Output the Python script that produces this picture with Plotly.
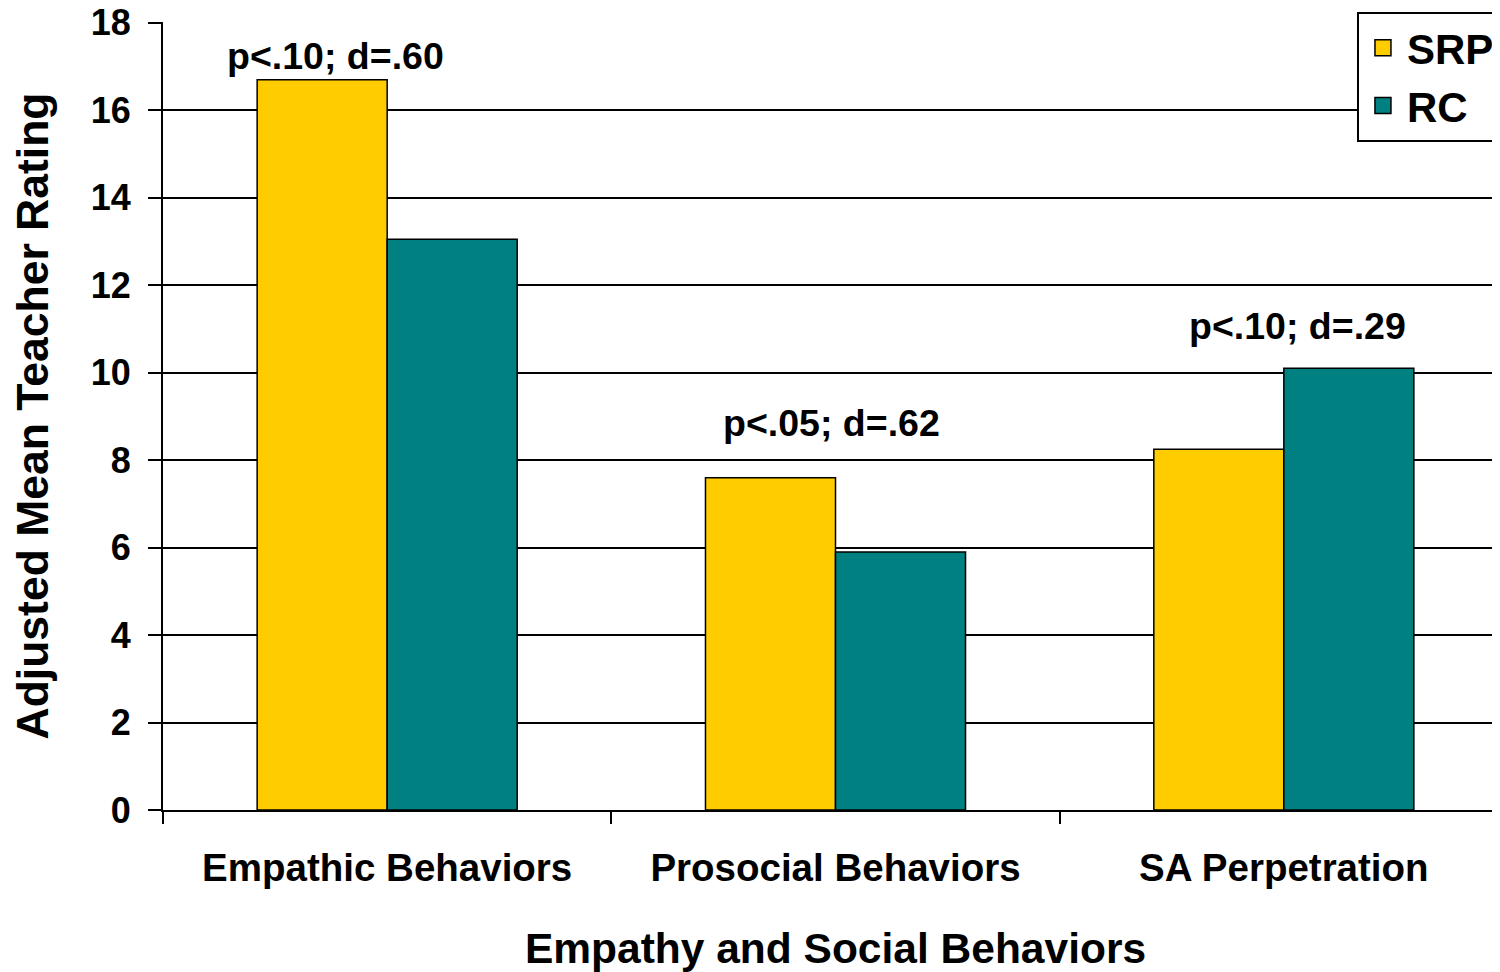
import plotly.graph_objects as go

categories = ["Empathic Behaviors", "Prosocial Behaviors", "SA Perpetration"]
srp_values = [16.7, 7.6, 8.25]
rc_values = [13.05, 5.9, 10.1]
annot_texts = ["p<.10; d=.60", "p<.05; d=.62", "p<.10; d=.29"]
annot_x = [-0.115, -0.01, 0.03]
annot_y = [17.25, 8.84, 11.06]
y_ticks = [0, 2, 4, 6, 8, 10, 12, 14, 16, 18]

FONT = "Liberation Sans, Arial, sans-serif"
SRP_COLOR = "#FFCC00"
RC_COLOR = "#008080"

fig = go.Figure()
fig.add_trace(go.Bar(name="SRP", x=categories, y=srp_values, showlegend=False,
                     marker=dict(color=SRP_COLOR, line=dict(color="black", width=1.5))))
fig.add_trace(go.Bar(name="RC", x=categories, y=rc_values, showlegend=False,
                     marker=dict(color=RC_COLOR, line=dict(color="black", width=1.5))))
# legend entries with larger square swatches
for nm, col in [("SRP", SRP_COLOR), ("RC", RC_COLOR)]:
    fig.add_trace(go.Scatter(x=[None], y=[None], mode="markers", name=f"<b>{nm}</b>",
                             marker=dict(symbol="square", size=24, color=col,
                                         line=dict(color="black", width=1.5))))

for i, (t, dx, yy) in enumerate(zip(annot_texts, annot_x, annot_y)):
    fig.add_annotation(x=i + dx, y=yy, xref="x", yref="y", text=f"<b>{t}</b>",
                       showarrow=False, font=dict(family=FONT, size=37.5, color="black"))

fig.update_layout(
    width=1500, height=972,
    margin=dict(l=155, r=0, t=14, b=170, autoexpand=False),
    paper_bgcolor="white", plot_bgcolor="white",
    barmode="group", bargap=0.42, bargroupgap=0,
    font=dict(family=FONT, color="black"),
    showlegend=True,
    legend=dict(x=0.8877, y=1.0127, xanchor="left", yanchor="top",
                bgcolor="white", bordercolor="black", borderwidth=2,
                font=dict(family=FONT, size=42, color="black"),
                itemsizing="trace", itemwidth=38, traceorder="normal"),
)
fig.update_xaxes(
    type="category", range=[-0.5, 2.5], automargin=False,
    showline=True, linecolor="black", linewidth=2,
    ticks="outside", tickson="boundaries", ticklen=12, tickwidth=1.5, tickcolor="black",
    tickfont=dict(family=FONT, size=38.5, color="black"),
    ticklabelstandoff=23,
    title=dict(text="<b>Empathy and Social Behaviors</b>", font=dict(family=FONT, size=42.5, color="black"), standoff=45),
    showgrid=False,
)
fig.update_xaxes(ticktext=[f"<b>{c}</b>" for c in categories], tickvals=categories)
fig.update_yaxes(
    range=[0, 18.02], tickvals=y_ticks, automargin=False,
    ticktext=[f"<b>{v}</b>" for v in y_ticks],
    showline=True, linecolor="black", linewidth=2,
    ticks="outside", ticklen=13, tickwidth=1.5, tickcolor="black",
    tickfont=dict(family=FONT, size=36, color="black"),
    ticklabelstandoff=10, ticklabeloverflow="allow",
    showgrid=True, gridcolor="black", gridwidth=1.5,
    zeroline=False,
    title=dict(text="<b>Adjusted Mean Teacher Rating</b>", font=dict(family=FONT, size=44.5, color="black"), standoff=32),
)

fig.write_html("out.html")
